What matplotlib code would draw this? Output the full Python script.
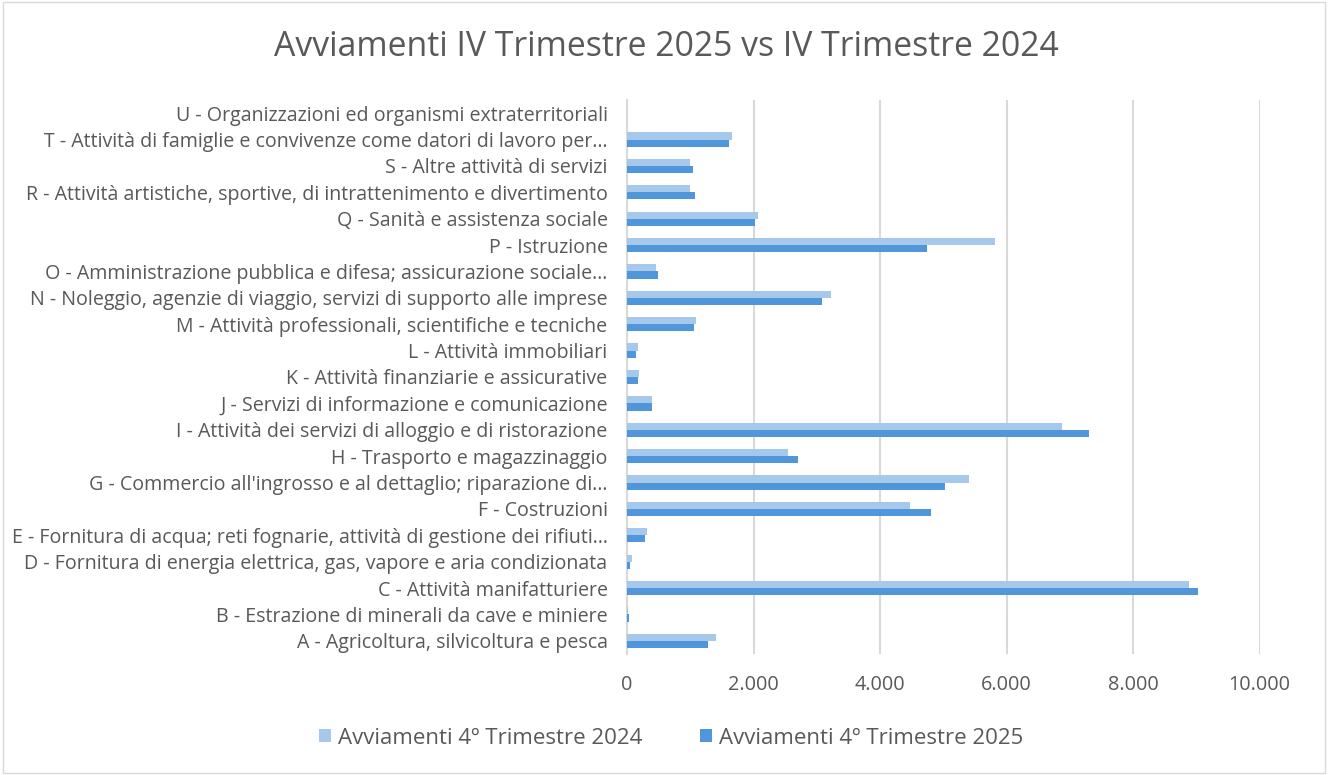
import matplotlib.pyplot as plt
import numpy as np
from matplotlib.patches import Rectangle
from matplotlib.ticker import FuncFormatter

plt.rcParams["font.family"] = ["Open Sans", "DejaVu Sans"]

GRAY_TEXT = "#595959"
LIGHT = "#a5c8eb"
DARK = "#4f97da"

categories = [
    "A - Agricoltura, silvicoltura e pesca",
    "B - Estrazione di minerali da cave e miniere",
    "C - Attività manifatturiere",
    "D - Fornitura di energia elettrica, gas, vapore e aria condizionata",
    "E - Fornitura di acqua; reti fognarie, attività di gestione dei rifiuti…",
    "F - Costruzioni",
    "G - Commercio all'ingrosso e al dettaglio; riparazione di…",
    "H - Trasporto e magazzinaggio",
    "I - Attività dei servizi di alloggio e di ristorazione",
    "J - Servizi di informazione e comunicazione",
    "K - Attività finanziarie e assicurative",
    "L - Attività immobiliari",
    "M - Attività professionali, scientifiche e tecniche",
    "N - Noleggio, agenzie di viaggio, servizi di supporto alle imprese",
    "O - Amministrazione pubblica e difesa; assicurazione sociale…",
    "P - Istruzione",
    "Q - Sanità e assistenza sociale",
    "R - Attività artistiche, sportive, di intrattenimento e divertimento",
    "S - Altre attività di servizi",
    "T - Attività di famiglie e convivenze come datori di lavoro per…",
    "U - Organizzazioni ed organismi extraterritoriali",
]

avviamenti_2024 = [1403, 22, 8880, 80, 317, 4471, 5403, 2545, 6878, 396,
                   196, 180, 1087, 3233, 465, 5816, 2068, 992, 1003, 1660, 0]
avviamenti_2025 = [1282, 38, 9030, 48, 291, 4802, 5035, 2701, 7304, 391,
                   180, 143, 1066, 3089, 491, 4740, 2025, 1071, 1045, 1620, 0]

fig = plt.figure(figsize=(13.28, 7.75), dpi=100)
ax = fig.add_axes([627 / 1328, 1 - 654 / 775, (1259.5 - 627) / 1328, (654 - 100) / 775])

y = np.arange(len(categories))
h = 0.27
ax.barh(y + h / 2, avviamenti_2024, height=h, color=LIGHT, label="Avviamenti 4º Trimestre 2024", zorder=3)
ax.barh(y - h / 2, avviamenti_2025, height=h, color=DARK, label="Avviamenti 4º Trimestre 2025", zorder=3)

ax.set_xlim(0, 10000)
ax.set_ylim(-0.5, len(categories) - 0.5)
ax.set_xticks(np.arange(0, 10001, 2000))
ax.xaxis.set_major_formatter(FuncFormatter(lambda v, _: f"{int(v):,}".replace(",", ".")))
ax.set_yticks(y)
ax.set_yticklabels(categories)
ax.grid(axis="x", color="#d9d9d9", linewidth=1.5, zorder=0)
ax.set_axisbelow(True)
for side in ["top", "right", "bottom"]:
    ax.spines[side].set_visible(False)
ax.spines["left"].set_color("#d9d9d9")
ax.spines["left"].set_linewidth(1.5)
ax.tick_params(axis="y", length=0, pad=14, labelsize=14.1, labelcolor=GRAY_TEXT)
ax.tick_params(axis="x", length=0, pad=15, labelsize=14.3, labelcolor=GRAY_TEXT)

fig.text(666 / 1328, 1 - 47 / 775, "Avviamenti IV Trimestre 2025 vs IV Trimestre 2024",
         ha="center", va="center", fontsize=24.3, color=GRAY_TEXT)

fig.legend(loc="center", bbox_to_anchor=(671 / 1328, 1 - 738 / 775), ncol=2, frameon=False,
           fontsize=16, labelcolor=GRAY_TEXT, handlelength=0.55, handleheight=0.55,
           handletextpad=0.3, columnspacing=2.6)

fig.patches.append(Rectangle((0.002, 0.002), 0.996, 0.996, transform=fig.transFigure,
                             fill=False, edgecolor="#d9d9d9", linewidth=1))

fig.savefig("out.png", dpi=100)
